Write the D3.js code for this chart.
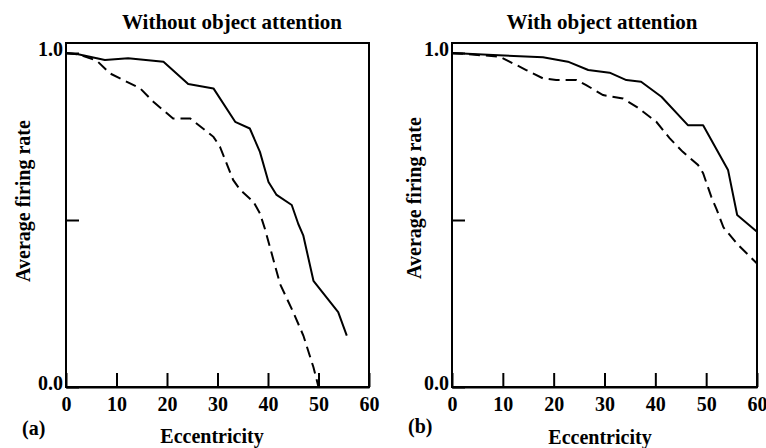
<!DOCTYPE html>
<html>
<head>
<meta charset="utf-8">
<script src="https://cdn.jsdelivr.net/npm/d3@7"></script>
<style>
  html, body { margin: 0; padding: 0; background: #fff; }
  svg { display: block; }
  text { font-family: "Liberation Serif", "Times New Roman", serif; font-weight: bold; fill: #000; }
</style>
</head>
<body>
<svg id="chart" width="766" height="448"></svg>
<script>
// ---- Data ----
const xTicks = [0, 10, 20, 30, 40, 50, 60];
const yTicks = [0, 0.5, 1.0];
const yTickLabels = ["0.0", "", "1.0"];
const panelTitles = ["Without object attention", "With object attention"];
const panelLetters = ["(a)", "(b)"];
const xLabel = "Eccentricity";
const yLabel = "Average firing rate";

// Panel (a): without object attention
const aSolidX = [0, 2.4, 6.1, 7.7, 12.3, 19.3, 24.2, 29.2, 33.5, 36.4, 38.4, 40.1, 41.7, 44.7, 46.0, 47.0, 49.0, 53.9, 55.6];
const aSolidY = [1.0, 0.996, 0.984, 0.979, 0.984, 0.974, 0.907, 0.894, 0.794, 0.774, 0.704, 0.614, 0.575, 0.545, 0.488, 0.453, 0.318, 0.224, 0.154];
const aDashX = [0, 2.4, 6.1, 8.7, 10.7, 14.7, 17.3, 21.2, 24.6, 29.2, 30.5, 33.1, 34.5, 37.1, 38.4, 39.4, 42.4, 45.0, 47.0, 49.0, 50.0];
const aDashY = [1.0, 0.996, 0.977, 0.939, 0.924, 0.894, 0.854, 0.804, 0.804, 0.749, 0.719, 0.620, 0.590, 0.555, 0.520, 0.473, 0.308, 0.224, 0.154, 0.059, 0.0];

// Panel (b): with object attention
const bSolidX = [0, 8.1, 17.9, 22.8, 26.8, 31.0, 34.3, 37.2, 41.2, 46.4, 49.4, 54.3, 56.1, 60];
const bSolidY = [1.0, 0.994, 0.987, 0.974, 0.949, 0.941, 0.919, 0.914, 0.869, 0.784, 0.784, 0.650, 0.515, 0.465];
const bDashX = [0, 9.4, 14.6, 17.9, 20.5, 24.5, 26.4, 29.7, 33.6, 36.3, 40.2, 42.8, 45.4, 48.4, 49.4, 51.0, 52.1, 53.4, 56.3, 60];
const bDashY = [1.0, 0.989, 0.949, 0.924, 0.919, 0.919, 0.904, 0.874, 0.864, 0.839, 0.794, 0.745, 0.704, 0.665, 0.640, 0.570, 0.530, 0.478, 0.425, 0.370];

// ---- Layout ----
const panels = [
  { left: 66, right: 369, title: panelTitles[0], titleX: 232, letter: panelLetters[0], letterX: 22, letterY: 435,
    xlabX: 212, xlabY: 443, ylabX: 30, ylabY: 201,
    solid: d3.zip(aSolidX, aSolidY), dash: d3.zip(aDashX, aDashY) },
  { left: 452, right: 757, title: panelTitles[1], titleX: 602, letter: panelLetters[1], letterX: 408, letterY: 433,
    xlabX: 600, xlabY: 444, ylabX: 421, ylabY: 198,
    solid: d3.zip(bSolidX, bSolidY), dash: d3.zip(bDashX, bDashY) }
];
const frameTop = 43, frameBottom = 387, yOne = 53;

const svg = d3.select("#chart");

panels.forEach(p => {
  const x = d3.scaleLinear().domain([0, 60]).range([p.left, p.right]);
  const y = d3.scaleLinear().domain([0, 1]).range([frameBottom, yOne]);
  const g = svg.append("g");

  // frame
  g.append("rect")
    .attr("x", p.left).attr("y", frameTop)
    .attr("width", p.right - p.left).attr("height", frameBottom - frameTop)
    .attr("fill", "none").attr("stroke", "#000").attr("stroke-width", 2);

  // x axis (ticks pointing inward)
  const xa = g.append("g").attr("transform", `translate(0,${frameBottom})`)
    .call(d3.axisBottom(x).tickValues(xTicks).tickFormat(d3.format("d"))
      .tickSizeInner(-14).tickSizeOuter(0).tickPadding(10));
  xa.attr("font-family", null).attr("font-size", null);
  xa.select(".domain").attr("stroke-width", 2);
  xa.selectAll(".tick line").attr("stroke-width", 2);
  xa.selectAll(".tick text").style("font-size", "20px");

  // y axis
  const ya = g.append("g").attr("transform", `translate(${p.left},0)`)
    .call(d3.axisLeft(y).tickValues(yTicks).tickFormat((d, i) => yTickLabels[i])
      .tickSizeInner(-13).tickSizeOuter(0).tickPadding(3));
  ya.attr("font-family", null).attr("font-size", null);
  ya.select(".domain").remove();
  ya.selectAll(".tick line").attr("stroke-width", 2);
  ya.selectAll(".tick text").style("font-size", "20px").attr("dy", "0.12em");

  // lines
  const line = d3.line().x(d => x(d[0])).y(d => y(d[1]));
  g.append("path").datum(p.solid).attr("d", line)
    .attr("fill", "none").attr("stroke", "#000").attr("stroke-width", 2).attr("stroke-linejoin", "round");
  g.append("path").datum(p.dash).attr("d", line)
    .attr("fill", "none").attr("stroke", "#000").attr("stroke-width", 2)
    .attr("stroke-dasharray", "11,6");

  // texts
  g.append("text").attr("x", p.titleX).attr("y", 29).attr("text-anchor", "middle")
    .style("font-size", "21px").text(p.title);
  g.append("text").attr("x", p.xlabX).attr("y", p.xlabY).attr("text-anchor", "middle")
    .style("font-size", "20px").text(xLabel);
  g.append("text").attr("x", p.letterX).attr("y", p.letterY)
    .style("font-size", "20px").text(p.letter);
  g.append("text").attr("transform", `translate(${p.ylabX},${p.ylabY}) rotate(-90)`)
    .attr("text-anchor", "middle").style("font-size", "20px").text(yLabel);
});
</script>
</body>
</html>
